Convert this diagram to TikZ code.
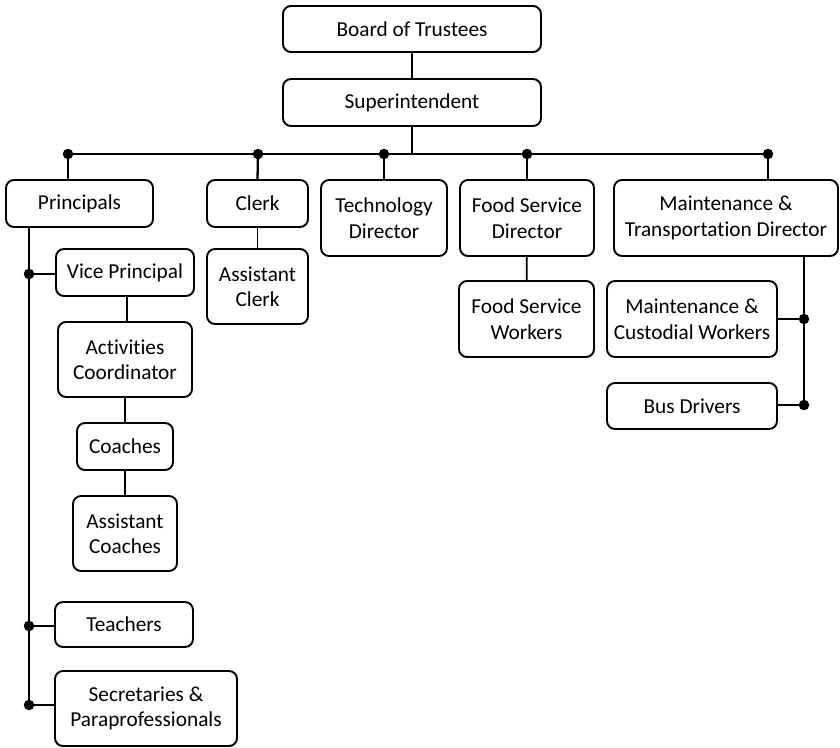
\documentclass[tikz,border=0pt]{standalone}
\usepackage{fontspec}
\setmainfont{Carlito}[Ligatures={NoCommon,NoRare,NoDiscretionary}]
\begin{document}
\begin{tikzpicture}[x=1pt,y=-1pt,
  box/.style={draw, line width=1.9pt, rounded corners=8pt, align=center, inner sep=0pt,
     font=\fontsize{21.3}{25.5}\selectfont},
  conn/.style={line width=1.8pt},
  busline/.style={line width=2.3pt},
  dot/.style={circle, fill=black, inner sep=0pt, minimum size=10.5pt}]
\useasboundingbox (0,0) rectangle (840,747);
% nodes
\node[box, minimum width=258pt, minimum height=46pt] (board) at (412,29) {Board of Trustees};
\node[box, minimum width=258pt, minimum height=47pt] (super) at (412,102.5) {Superintendent};
\node[box, minimum width=147pt, minimum height=47pt] (princ) at (79.5,203.5) {Principals};
\node[box, minimum width=101pt, minimum height=47pt] (clerk) at (257.5,203.5) {Clerk};
\node[box, minimum width=126pt, minimum height=76pt] (tech) at (384,218) {Technology\\Director};
\node[box, minimum width=134pt, minimum height=76pt] (fsd) at (527,218) {Food Service\\Director};
\node[box, minimum width=224pt, minimum height=76pt] (mtd) at (726,218) {Maintenance \&\\Transportation Director};
\node[box, minimum width=138pt, minimum height=47pt] (vp) at (125,272.5) {Vice Principal};
\node[box, minimum width=101pt, minimum height=75pt] (aclerk) at (257.5,286.5) {Assistant\\Clerk};
\node[box, minimum width=134pt, minimum height=75pt] (act) at (125,359.5) {Activities\\Coordinator};
\node[box, minimum width=96pt, minimum height=47pt] (coach) at (125,446.5) {Coaches};
\node[box, minimum width=104pt, minimum height=75pt] (acoach) at (125,533.5) {Assistant\\Coaches};
\node[box, minimum width=138pt, minimum height=45pt] (teach) at (124,624.5) {Teachers};
\node[box, minimum width=182pt, minimum height=75pt] (secr) at (146,708.5) {Secretaries \&\\Paraprofessionals};
\node[box, minimum width=135pt, minimum height=76pt] (fsw) at (526.5,319) {Food Service\\Workers};
\node[box, minimum width=170pt, minimum height=76pt] (mcw) at (692,319) {Maintenance \&\\Custodial Workers};
\node[box, minimum width=170pt, minimum height=46pt] (bus) at (692,406) {Bus Drivers};
% junctions
\coordinate (jP) at (68,154);
\coordinate (jC) at (258,154);
\coordinate (jT) at (384,154);
\coordinate (jF) at (527,154);
\coordinate (jM) at (768,154);
\coordinate (jS) at (412,154);
\coordinate (pVP) at (29,274);
\coordinate (pT) at (29,626);
\coordinate (pS) at (29,705);
\coordinate (mC) at (804,319);
\coordinate (mB) at (804,405);
% connectors
\draw[conn] (board) -- (super);
\draw[busline] (super.south) -- (jS);
\draw[busline] (jP) -- (jM);
\draw[busline] (jP) -- (jP |- princ.north);
\draw[busline] (jC) -- (clerk.north);
\draw[busline] (jT) -- (tech.north);
\draw[busline] (jF) -- (fsd.north);
\draw[busline] (jM) -- (jM |- mtd.north);
\draw[conn] (clerk) -- (aclerk);
\draw[conn] (fsd) -- (fsw);
\draw[conn] (vp.south -| 127,0) -- (act.north -| 127,0);
\draw[conn] (act) -- (coach);
\draw[conn] (coach) -- (acoach);
\draw[busline] (pVP |- princ.south) -- (pS);
\draw[busline] (pVP) -- (vp.west |- pVP);
\draw[busline] (pT) -- (teach.west |- pT);
\draw[busline] (pS) -- (secr.west |- pS);
\draw[busline] (mC |- mtd.south) -- (mB);
\draw[busline] (mC) -- (mcw.east |- mC);
\draw[busline] (mB) -- (bus.east |- mB);
% dots
\foreach \j in {jP,jC,jT,jF,jM,pVP,pT,pS,mC,mB}
  \node[dot] at (\j) {};
\end{tikzpicture}
\end{document}
